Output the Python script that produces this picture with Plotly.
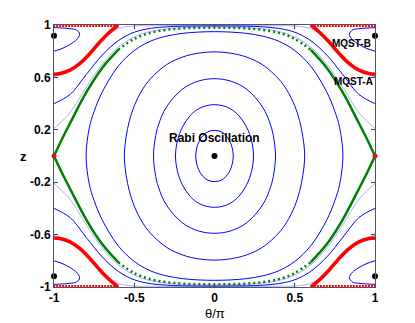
import plotly.graph_objects as go

# ---- values (theta/pi >= 0, z >= 0 quarter; the portrait is mirror symmetric) ----
# closed Rabi orbits around (0, 0): from (0, z_top) to (theta_max, 0)
rabi1_t = [0, 0.04, 0.07, 0.09, 0.105, 0.113, 0.117]
rabi1_z = [0.195, 0.186, 0.158, 0.125, 0.085, 0.045, 0]
rabi2_t = [0, 0.05, 0.1, 0.15, 0.2, 0.23, 0.243]
rabi2_z = [0.392, 0.384, 0.36, 0.31, 0.22, 0.12, 0]
rabi3_t = [0, 0.1, 0.2, 0.3, 0.35, 0.37, 0.38]
rabi3_z = [0.59, 0.572, 0.51, 0.373, 0.235, 0.13, 0]
rabi4_t = [0, 0.1, 0.2, 0.3, 0.4, 0.45, 0.5, 0.53, 0.55, 0.562]
rabi4_z = [0.795, 0.785, 0.755, 0.696, 0.588, 0.505, 0.383, 0.27, 0.15, 0]
rabi5_t = [0, 0.1, 0.2, 0.3, 0.4, 0.5, 0.6, 0.7, 0.75, 0.78, 0.8]
rabi5_z = [0.949, 0.946, 0.936, 0.915, 0.876, 0.805, 0.685, 0.487, 0.34, 0.215, 0]

# running-phase orbits above the separatrix: theta from 0 to 1
run_t = [0, 0.1, 0.2, 0.3, 0.4, 0.5, 0.6, 0.7, 0.8, 0.9, 1.0]
run1_z = [0.996, 0.996, 0.996, 0.995, 0.994, 0.993, 0.972, 0.885, 0.765, 0.651, 0.605]
run2_z = [0.993, 0.992, 0.991, 0.986, 0.974, 0.945, 0.88, 0.77, 0.62, 0.47, 0.40]
run3_z = [0.984, 0.983, 0.979, 0.97, 0.951, 0.909, 0.83, 0.70, 0.525, 0.33, 0.21]

# separatrix (green), theta from 0 to 1
sep_t = [0, 0.1, 0.2, 0.3, 0.4, 0.5, 0.6, 0.7, 0.8, 0.9, 0.95, 1.0]
sep_z = [0.98, 0.979, 0.974, 0.963, 0.94, 0.894, 0.81, 0.672, 0.483, 0.25, 0.13, 0]

# MQST-B trajectory (red) and small orbit around the MQST fixed point
mqst_t = [1.0, 0.963, 0.9, 0.838, 0.776, 0.713, 0.651, 0.6]
mqst_z = [0.625, 0.63, 0.655, 0.707, 0.783, 0.872, 0.949, 1.0]
edge_t = [0.6, 1.0]
edge_z = [1.0, 1.0]
loop_t = [1.0, 0.95, 0.9, 0.86, 0.84, 0.86, 0.9, 0.95, 1.0]
loop_z = [0.98, 0.977, 0.972, 0.962, 0.93, 0.887, 0.852, 0.82, 0.80]

# fixed points
fix_t = [0, -1, 1, -1, 1]
fix_z = [0, 0.918, 0.918, -0.918, -0.918]
saddle_t = [-1, 1]
saddle_z = [0, 0]

BLUE = "#0000ff"
LIGHT = "rgba(70,70,255,0.45)"

fig = go.Figure()


def line(x, y, color, width=1, dash="solid", shape="spline"):
    fig.add_trace(go.Scatter(x=x, y=y, mode="lines", showlegend=False, hoverinfo="skip",
                             line=dict(color=color, width=width, dash=dash, shape=shape)))


def closed(t, z):
    xs = t + t[::-1][1:] + [-v for v in t][1:] + [-v for v in t[::-1]][1:]
    ys = z + [-v for v in z[::-1]][1:] + [-v for v in z][1:] + z[::-1][1:]
    return xs, ys


def across(t, z):
    return [-v for v in t[::-1]] + t[1:], z[::-1] + z[1:]


for t, z in [(rabi1_t, rabi1_z), (rabi2_t, rabi2_z), (rabi3_t, rabi3_z),
             (rabi4_t, rabi4_z), (rabi5_t, rabi5_z)]:
    xs, ys = closed(t, z)
    line(xs, ys, BLUE)

for z, col in [(run1_z, LIGHT), (run2_z, BLUE), (run3_z, LIGHT)]:
    xs, ys = across(run_t, z)
    line(xs, ys, col)
    line(xs, [-v for v in ys], col)

for sx in (1, -1):
    for sz in (1, -1):
        line([sx * v for v in loop_t], [sz * v for v in loop_z], BLUE)

# separatrix: solid where dense, dotted across the top
k = sep_t.index(0.6)
sx_, sz_ = across(sep_t[:k + 1], sep_z[:k + 1])
for sz in (1, -1):
    line(sx_, [sz * v for v in sz_], "#008000", width=2.5, dash="2px,3px")
    for sx in (1, -1):
        line([sx * v for v in sep_t[k:]], [sz * v for v in sep_z[k:]], "#008000", width=2.5)

# MQST-B in red
for sx in (1, -1):
    for sz in (1, -1):
        line([sx * v for v in mqst_t], [sz * v for v in mqst_z], "#ff0000", width=3.5)
        line([sx * v for v in edge_t], [sz * v for v in edge_z], "#ff0000", width=4,
             dash="2px,1px", shape="linear")

fig.add_trace(go.Scatter(x=saddle_t, y=saddle_z, mode="markers", showlegend=False, cliponaxis=False,
                         marker=dict(color="#ff0000", size=5)))
fig.add_trace(go.Scatter(x=fix_t, y=fix_z, mode="markers", showlegend=False, cliponaxis=False,
                         marker=dict(color="black", size=6)))

tick_font = dict(family="Liberation Sans, Arial", size=12, color="black", weight="bold")
fig.update_xaxes(range=[-1, 1], tickvals=[-1, -0.5, 0, 0.5, 1],
                 ticktext=["-1", "-0.5", "0", "0.5", "1"], automargin=False,
                 ticks="inside", ticklen=4, tickcolor="#444", showline=True, linecolor="#555",
                 mirror="ticks", showgrid=False, zeroline=False, tickfont=tick_font)
fig.update_yaxes(range=[-1, 1], tickvals=[1, 0.6, 0.2, -0.2, -0.6, -1],
                 ticktext=["1", "0.6", "0.2", "-0.2", "-0.6", "-1"], automargin=False,
                 ticks="inside", ticklen=4, tickcolor="#444", showline=True, linecolor="#555",
                 mirror="ticks", showgrid=False, zeroline=False, tickfont=tick_font)

lab = dict(family="Liberation Sans, Arial", color="black", weight="bold")
fig.add_annotation(x=0, y=0.14, text="Rabi Oscillation", showarrow=False,
                   font=dict(size=12, **lab))
fig.add_annotation(x=0.99, y=0.86, text="MQST-B", showarrow=False, xanchor="right",
                   font=dict(size=10, **lab))
fig.add_annotation(x=1.0, y=0.57, text="MQST-A", showarrow=False, xanchor="right",
                   font=dict(size=10, **lab))
fig.add_annotation(x=0, y=0, xref="x", yref="paper", yanchor="top", yshift=-17,
                   text="θ/π", showarrow=False,
                   font=dict(family="Liberation Sans, Arial", size=13, color="black"))
fig.add_annotation(x=-0.112, y=0, xref="paper", yref="y", text="z", showarrow=False,
                   font=dict(size=13, **lab))

# the page adds an 8px body margin, so the plot margins are set 8px smaller on the left/top
fig.update_layout(width=415, height=323, margin=dict(l=46, r=48, t=17, b=44),
                  plot_bgcolor="white", paper_bgcolor="white", showlegend=False)

fig.write_html("out.html")
